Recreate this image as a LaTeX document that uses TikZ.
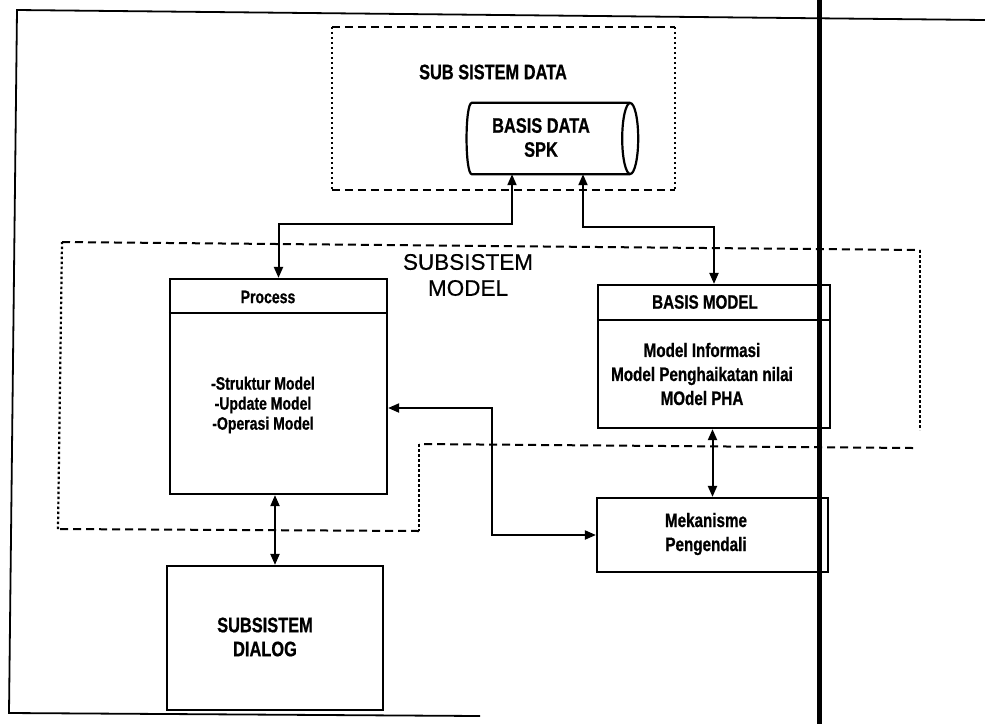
\documentclass[tikz,border=0pt]{standalone}
\usepackage{fontspec}
\setmainfont{Liberation Sans}
\newfontfamily\narrowsans[FakeStretch=0.78,FakeBold=0.8]{Liberation Sans}
\newfontfamily\titlesans[FakeBold=0.6]{Liberation Sans}
\usetikzlibrary{arrows.meta}

\begin{document}
\begin{tikzpicture}[x=1pt,y=-1pt,
  box/.style={draw, line width=2.2pt, inner sep=0pt},
  divider/.style={line width=1.8pt},
  both/.style={line width=2pt, {Triangle[length=11pt,width=9pt]}-{Triangle[length=11pt,width=9pt]}},
  hdash/.style={line width=2pt, dash pattern=on 8pt off 5pt},
  vdot/.style={line width=2.2pt, dash pattern=on 2.5pt off 2.5pt},
  lbl/.style={font={\narrowsans\bfseries\fontsize{21}{24}\selectfont}, align=center, inner sep=0pt},
  lblsmall/.style={font={\narrowsans\bfseries\fontsize{18}{20}\selectfont}, align=center, inner sep=0pt},
  lblbody/.style={font={\narrowsans\bfseries\fontsize{19.5}{24}\selectfont}, align=center, inner sep=0pt},
  title/.style={font={\titlesans\fontsize{22.5}{26}\selectfont}, align=center, inner sep=0pt},
]
\useasboundingbox (0,0) rectangle (985,724);

% page frame and margin rule
\draw[line width=1.8pt] (985,20) -- (17,10) -- (9,713) -- (480,716);
\draw[line width=5pt] (819,0) -- (819,724);

% data subsystem region
\node[minimum width=343, minimum height=163, inner sep=0pt] (sdata) at (503.5,108.5) {};
\draw[hdash] (sdata.north west) -- (sdata.north east);
\draw[hdash] (sdata.south west) -- (sdata.south east);
\draw[vdot] (sdata.north west) -- (sdata.south west);
\draw[vdot] (sdata.north east) -- (sdata.south east);
\node[lbl] (sdataT) at (493,72) {SUB SISTEM DATA};

% database cylinder
\node[minimum width=158, minimum height=71, inner sep=0pt] (db) at (551,138.5) {};
\draw[line width=2.2pt] (db.north east) -- (db.north west)
  .. controls ([xshift=-7pt]db.north west) and ([xshift=-7pt]db.south west) .. (db.south west)
  -- (db.south east);
\draw[line width=2.2pt] (db.east) ellipse [x radius=8, y radius=35.5];
\node[lbl] (dbT) at (541,137.5) {BASIS DATA\\SPK};

% model subsystem region
\draw[hdash] (62,242) -- (920,250);
\draw[vdot] (920,250) -- (920,430);
\draw[hdash] (913,448) -- (419,444);
\draw[vdot] (419,444) -- (419,531);
\draw[hdash] (419,531) -- (58,529);
\draw[vdot] (58,529) -- (62,242);
\node[title] (modelT) at (468,275) {SUBSISTEM\\MODEL};

% process box
\node[box, minimum width=217, minimum height=215] (proc) at (278.5,386.5) {};
\draw[divider] ([yshift=-35pt]proc.north west) -- ([yshift=-35pt]proc.north east);
\node[lblsmall] (procT) at (268,297) {Process};
\node[lblsmall] (procB) at (263,405) {-Struktur Model\\-Update Model\\-Operasi Model};

% model base box
\node[box, minimum width=232, minimum height=143] (bm) at (714,356.5) {};
\draw[divider] ([yshift=-36pt]bm.north west) -- ([yshift=-36pt]bm.north east);
\node[lblbody] (bmT) at (705,302) {BASIS MODEL};
\node[lblbody] (bmB) at (702,374) {Model Informasi\\Model Penghaikatan nilai\\MOdel PHA};

% control mechanism box
\node[box, minimum width=231, minimum height=74] (mek) at (712.5,535) {};
\node[lblbody] (mekT) at (706,534) {Mekanisme\\Pengendali};

% dialog subsystem box
\node[box, minimum width=216, minimum height=144] (dlg) at (275,638) {};
\node[lbl] (dlgT) at (265,637) {SUBSISTEM\\DIALOG};

% connectors
\coordinate (dbL) at ([xshift=-39pt]db.south);
\coordinate (dbR) at ([xshift=32pt]db.south);
\draw[both] (proc.north) -- ++(0,-54) -| (dbL);
\draw[both] (bm.north) -- ++(0,-57) -| (dbR);
\draw[both] ([yshift=-21.5pt]proc.east) -- ++(104,0) |- (mek.west);
\draw[both] (dlg.north) -- (dlg.north |- proc.south);
\draw[both] (mek.north) -- (mek.north |- bm.south);
\end{tikzpicture}
\end{document}
